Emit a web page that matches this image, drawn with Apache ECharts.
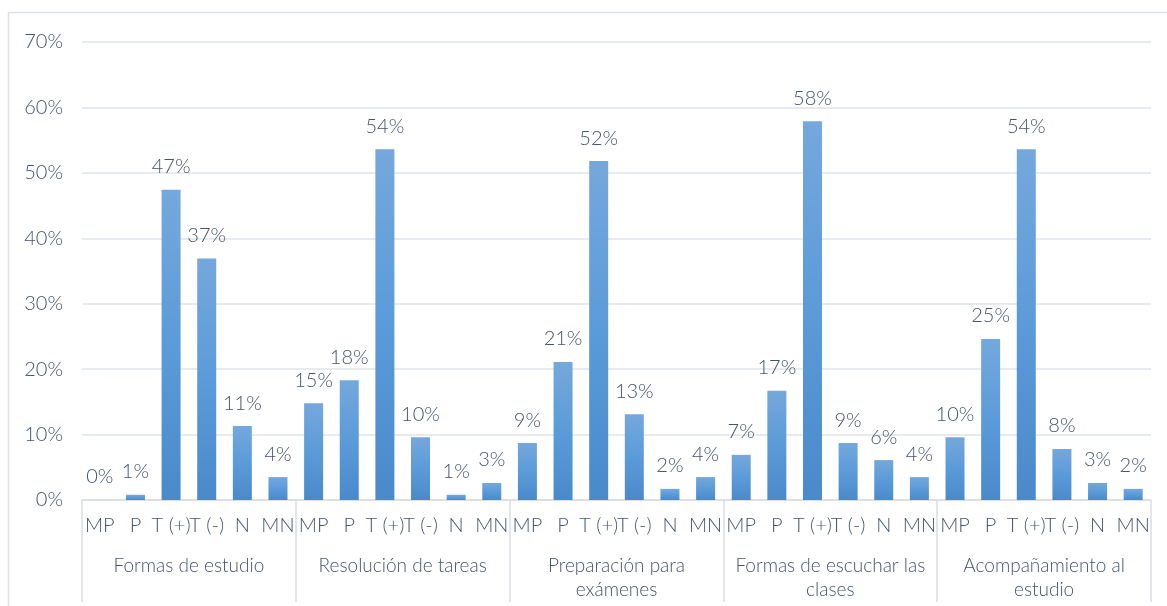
<!DOCTYPE html>
<html>
<head>
<meta charset="utf-8">
<script src="https://cdn.jsdelivr.net/npm/echarts@6/dist/echarts.min.js"></script>
<style>
  html, body { margin: 0; padding: 0; background: #fff; }
  #chart { width: 1167px; height: 606px; }
</style>
</head>
<body>
<div id="chart"></div>
<script>
// niveles de respuesta y grupos
var niveles = ['MP', 'P', 'T (+)', 'T (-)', 'N', 'MN'];
var grupos = ['Formas de estudio', 'Resolución de tareas', 'Preparación para\nexámenes', 'Formas de escuchar las\nclases', 'Acompañamiento al\nestudio'];

// porcentajes por grupo
var formasEstudio = [0, 0.8, 47.4, 36.9, 11.3, 3.5];
var resolucionTareas = [14.8, 18.3, 53.6, 9.6, 0.8, 2.6];
var preparacionExamenes = [8.7, 21.1, 51.8, 13.1, 1.7, 3.5];
var escucharClases = [6.9, 16.7, 57.9, 8.7, 6.1, 3.5];
var acompanamiento = [9.6, 24.6, 53.6, 7.8, 2.6, 1.7];

var yTicks = [0, 10, 20, 30, 40, 50, 60, 70];

var categorias = [];
var valores = [];
[formasEstudio, resolucionTareas, preparacionExamenes, escucharClases, acompanamiento].forEach(function (g) {
  g.forEach(function (v, i) {
    categorias.push(niveles[i]);
    valores.push(v);
  });
});

var fuente = 'Lato, "Noto Sans", sans-serif';
var colorTexto = '#46546a';

var chart = echarts.init(document.getElementById('chart'));
var option = {
  animation: false,
  graphic: [{
    type: 'rect',
    shape: { x: 8.5, y: 12.5, width: 1170, height: 610 },
    style: { fill: 'none', stroke: '#dde1e7', lineWidth: 1.5 },
    silent: true
  }],
  grid: { left: 82, right: 16, top: 42, bottom: 106 },
  xAxis: [{
    type: 'category',
    data: categorias,
    axisLine: { lineStyle: { color: '#d9dde4', width: 1.5 } },
    axisTick: { show: false },
    axisLabel: {
      interval: 0, margin: 16, color: colorTexto,
      fontFamily: fuente, fontWeight: 300, fontSize: 20
    }
  }, {
    type: 'category',
    position: 'bottom',
    data: grupos,
    axisLine: { show: false },
    axisTick: { show: true, length: 102, lineStyle: { color: '#d9dde4', width: 1.5 } },
    axisLabel: {
      interval: 0, margin: 54, color: colorTexto,
      fontFamily: fuente, fontWeight: 300, fontSize: 19, lineHeight: 24,
      align: 'center', verticalAlign: 'top'
    }
  }],
  yAxis: {
    type: 'value',
    min: 0, max: 70, interval: 10,
    axisLine: { show: false },
    axisTick: { show: false },
    splitLine: { lineStyle: { color: '#dfe3ea', width: 1.5 } },
    axisLabel: {
      margin: 19, color: colorTexto, fontFamily: fuente, fontWeight: 300, fontSize: 20,
      formatter: function (v) { return yTicks.indexOf(v) >= 0 ? v + '%' : ''; }
    }
  },
  series: [{
    type: 'bar',
    xAxisIndex: 0,
    data: valores,
    barWidth: 19,
    itemStyle: {
      color: new echarts.graphic.LinearGradient(0, 0, 0, 1, [
        { offset: 0, color: '#75a8dc' },
        { offset: 0.5, color: '#5b9bd9' },
        { offset: 1, color: '#4a8acb' }
      ])
    },
    label: {
      show: true, position: 'top', distance: 13,
      color: colorTexto, fontFamily: fuente, fontWeight: 300, fontSize: 20,
      formatter: function (p) { return Math.round(p.value) + '%'; }
    }
  }]
};
chart.setOption(option);
</script>
</body>
</html>
